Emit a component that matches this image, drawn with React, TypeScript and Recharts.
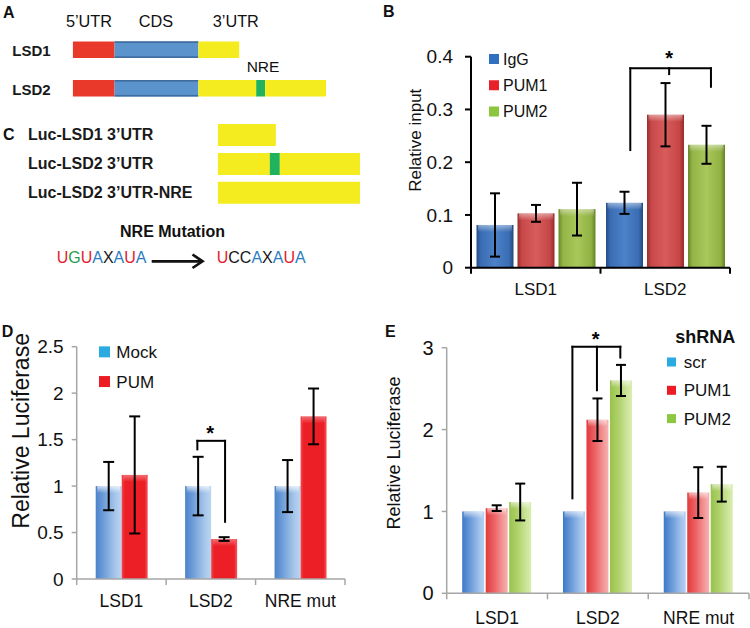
import React from 'react';
import { BarChart, Bar, XAxis, YAxis, ErrorBar, ReferenceLine, ReferenceDot, Legend } from 'recharts';

const FONT = '"Liberation Sans", Arial, Helvetica, sans-serif';

// ---------- Panel A (gene structure, arbitrary length units) ----------
const aRows = ['LSD1', 'LSD2'];
const aUtr5 = [42, 42];
const aCds = [84, 84];
const aUtr3 = [41, 58];
const aNre = [0, 9];
const aUtr3b = [0, 61];

// ---------- Panel C (reporter constructs) ----------
const cRows = ['Luc-LSD1 3\u2019UTR', 'Luc-LSD2 3\u2019UTR', 'Luc-LSD2 3\u2019UTR-NRE'];
const cUtr = [58, 52, 142];
const cNre = [0, 10, 0];
const cUtrB = [0, 80, 0];

// ---------- Panel B ----------
const bCats = ['LSD1', 'LSD2'];
const bNames = ['IgG', 'PUM1', 'PUM2'];
const bIgG = [0.081, 0.123];
const bIgGErr = [0.06, 0.021];
const bPum1 = [0.103, 0.29];
const bPum1Err = [0.016, 0.06];
const bPum2 = [0.111, 0.233];
const bPum2Err = [0.05, 0.036];
const bTicks = [0, 0.1, 0.2, 0.3, 0.4];
const bBracketX = [1.23, 1.53, 1.853];
const bBracketTop = 0.378;
const bBracketEnds = [0.223, 0.367, 0.343];
const bStar = [1.53, 0.3975];

// ---------- Panel D ----------
const dCats = ['LSD1', 'LSD2', 'NRE mut'];
const dNames = ['Mock', 'PUM'];
const dMock = [1, 1, 1];
const dMockErr = [0.26, 0.315, 0.28];
const dPum = [1.12, 0.43, 1.75];
const dPumErr = [0.63, 0.02, 0.3];
const dTicks = [0, 0.5, 1, 1.5, 2, 2.5];
const dBracketX = [1.349, 1.659];
const dBracketTop = 1.487;
const dBracketEnds = [1.395, 0.616];
const dStar = [1.491, 1.577];

// ---------- Panel E ----------
const eCats = ['LSD1', 'LSD2', 'NRE mut'];
const eNames = ['scr', 'PUM1', 'PUM2'];
const eScr = [1, 1, 1];
const ePum1 = [1.04, 2.12, 1.23];
const ePum1Err = [0.035, 0.26, 0.31];
const ePum2 = [1.115, 2.6, 1.333];
const ePum2Err = [0.225, 0.19, 0.213];
const eTicks = [0, 1, 2, 3];
const eBracketX = [1.2475, 1.491, 1.723];
const eBracketTop = 3.011;
const eBracketEnds = [1.16, 2.48, 2.88];
const eStar = [1.478, 3.105];

// ---------- tables built from the arrays ----------
const aData = aRows.map((name, i) => ({ name, utr5: aUtr5[i], cds: aCds[i], utr3: aUtr3[i], nre: aNre[i], utr3b: aUtr3b[i] }));
const cData = cRows.map((name, i) => ({ name, utr: cUtr[i], nre: cNre[i], utrb: cUtrB[i] }));
const bData = bCats.map((name, i) => ({ name, slot: i + 0.5, igg: bIgG[i], iggErr: bIgGErr[i], pum1: bPum1[i], pum1Err: bPum1Err[i], pum2: bPum2[i], pum2Err: bPum2Err[i] }));
const dData = dCats.map((name, i) => ({ name, slot: i + 0.5, mock: dMock[i], mockErr: dMockErr[i], pum: dPum[i], pumErr: dPumErr[i] }));
const eData = eCats.map((name, i) => ({ name, slot: i + 0.5, scr: eScr[i], pum1: ePum1[i], pum1Err: ePum1Err[i], pum2: ePum2[i], pum2Err: ePum2Err[i] }));

// ---------- styles ----------
const RED = '#e9392b';
const BLUE = '#5b93cc';
const YELLOW = '#f4ec1f';
const GREEN = '#20b25c';

type Stop = [number, string];
const G_B_IGG: Stop[] = [[0, '#234c88'], [0.12, '#3a6db3'], [0.5, '#4d82c8'], [0.88, '#3a6db3'], [1, '#214882']];
const G_B_P1: Stop[] = [[0, '#9a2e2d'], [0.12, '#c84849'], [0.5, '#d85c5b'], [0.88, '#c44545'], [1, '#952b2a']];
const G_B_P2: Stop[] = [[0, '#6b8728'], [0.12, '#93b446'], [0.5, '#a9c75a'], [0.88, '#91b143'], [1, '#678225']];
const G_D_MOCK: Stop[] = [[0, '#4a82ca'], [0.35, '#74a2da'], [0.75, '#a6c6ea'], [1, '#bcd5f1']];
const G_D_PUM: Stop[] = [[0, '#f04a4e'], [0.12, '#ec1f27'], [0.88, '#ec1f27'], [1, '#f2585c']];
const G_E_SCR: Stop[] = [[0, '#3f78c6'], [0.4, '#6e9ddb'], [0.8, '#a2c3ec'], [1, '#b4cff0']];
const G_E_P1: Stop[] = [[0, '#e23a3c'], [0.4, '#ec6466'], [0.8, '#f49a9a'], [1, '#f6b2b2']];
const G_E_P2: Stop[] = [[0, '#98c24c'], [0.4, '#b0d26c'], [0.8, '#cde69c'], [1, '#d9edb2']];

const NUC_COLOR: Record<string, string> = { U: '#e5202e', G: '#1f9e4b', A: '#2c7cc2', X: '#151515', C: '#151515' };
const seqWild = 'UGUAXAUA';
const seqMut = 'UCCAXAUA';

const GlossBar = (props: any) => {
  const { x, y, width, height, index, gid, stops, hl } = props;
  if (!(height > 0) || !(width > 0)) return null;
  const id = `${gid}-${index}`;
  const hh = Math.min(7, height);
  return (
    <g>
      <defs>
        <linearGradient id={id} x1="0" y1="0" x2="1" y2="0">
          {stops.map((s: Stop, k: number) => (
            <stop key={k} offset={s[0]} stopColor={s[1]} />
          ))}
        </linearGradient>
        <linearGradient id={id + 'h'} x1="0" y1="0" x2="0" y2="1">
          <stop offset="0" stopColor="#ffffff" stopOpacity={hl} />
          <stop offset="1" stopColor="#ffffff" stopOpacity={0} />
        </linearGradient>
      </defs>
      <rect x={x} y={y} width={width} height={height} fill={`url(#${id})`} />
      <rect x={x + 1.5} y={y} width={Math.max(0, width - 3)} height={hh} fill={`url(#${id}h)`} />
    </g>
  );
};

const CdsShape = (props: any) => {
  const { x, y, width, height } = props;
  if (!(width > 0)) return null;
  return (
    <g>
      <rect x={x} y={y} width={width} height={height} fill={BLUE} />
      <rect x={x} y={y} width={width} height={1.6} fill="#3e6c9f" />
      <rect x={x} y={y + height - 1.6} width={width} height={1.6} fill="#3e6c9f" />
    </g>
  );
};

const CatTick = (props: any) => {
  const { x, y, payload, index, visibleTicksCount, width, fs, dy, color, tw } = props;
  const half =
    payload && typeof payload.offset === 'number' && payload.offset > 0
      ? payload.offset
      : width / (visibleTicksCount || 1) / 2;
  return (
    <g>
      <line x1={x - half} x2={x - half} y1={y} y2={y + 6} stroke={color} strokeWidth={tw} />
      {index === visibleTicksCount - 1 && (
        <line x1={x + half} x2={x + half} y1={y} y2={y + 6} stroke={color} strokeWidth={tw} />
      )}
      <text x={x} y={y + dy} textAnchor="middle" fontSize={fs} fontFamily={FONT} fill="#111">
        {payload.value}
      </text>
    </g>
  );
};

const RowTick = (props: any) => {
  const { x, y, payload, anchor, fs, dy } = props;
  return (
    <text x={x} y={y + dy} textAnchor={anchor} fontSize={fs} fontWeight="bold" fontFamily={FONT} fill="#1a1a1a">
      {payload.value}
    </text>
  );
};

const AxisTitle = (props: any) => {
  const vb = props.viewBox || { x: 0, y: 0, width: 0, height: 0 };
  const tx = vb.x + props.cx;
  const ty = vb.y + vb.height / 2 + props.dy;
  return (
    <text
      x={tx}
      y={ty}
      transform={`rotate(-90 ${tx} ${ty})`}
      textAnchor="middle"
      dominantBaseline="central"
      fontSize={props.fs}
      fontFamily={FONT}
      fill="#111"
    >
      {props.text}
    </text>
  );
};

const LegendBox = (props: any) => {
  const { names, colors, title, sq, fs, rowH, firstY, textX, titleX, titleY, w, h } = props;
  return (
    <svg width={w} height={h} style={{ display: 'block', overflow: 'visible' }}>
      {title && (
        <text x={titleX} y={titleY + 0.358 * 18} fontSize={18} fontWeight="bold" fontFamily={FONT} fill="#111">
          {title}
        </text>
      )}
      {names.map((n: string, i: number) => {
        const cy = firstY + i * rowH;
        return (
          <g key={n}>
            <rect x={0} y={cy - sq / 2} width={sq} height={sq} fill={colors[i]} />
            <text x={textX} y={cy + 0.358 * fs} fontSize={fs} fontFamily={FONT} fill="#111">
              {n}
            </text>
          </g>
        );
      })}
    </svg>
  );
};

const bracket = (key: string, xs: number[], top: number, ends: number[], sw: number) => {
  const lines = [
    <ReferenceLine
      key={key + 'h'}
      xAxisId="n"
      segment={[{ x: xs[0], y: top }, { x: xs[xs.length - 1], y: top }]}
      stroke="#000"
      strokeWidth={sw}
      strokeLinecap="square"
      ifOverflow="visible"
    />,
  ];
  xs.forEach((xv, i) => {
    lines.push(
      <ReferenceLine
        key={key + 'v' + i}
        xAxisId="n"
        segment={[{ x: xv, y: top }, { x: xv, y: ends[i] }]}
        stroke="#000"
        strokeWidth={sw}
        strokeLinecap="square"
        ifOverflow="visible"
      />
    );
  });
  return lines;
};

const star = (key: string, pos: number[]) => (
  <ReferenceDot
    key={key}
    xAxisId="n"
    x={pos[0]}
    y={pos[1]}
    r={1}
    fill="none"
    stroke="none"
    ifOverflow="visible"
    label={{ value: '*', position: 'center', fontSize: 20, fontWeight: 'bold', fill: '#000', fontFamily: FONT }}
  />
);

export default function App() {
  return (
    <div style={{ position: 'absolute', left: 0, top: 0, width: 750, height: 628, background: '#fff', overflow: 'hidden' }}>
      {/* Panel A */}
      <div style={{ position: 'absolute', left: 0, top: 0 }}>
        <BarChart layout="vertical" width={375} height={110} data={aData} margin={{ top: 30.4, right: 49, bottom: 2.4, left: 0 }}>
          <XAxis type="number" domain={[0, 254]} hide allowDataOverflow />
          <YAxis
            type="category"
            dataKey="name"
            width={72.7}
            axisLine={false}
            tickLine={false}
            tickSize={0}
            tickMargin={22}
            tick={(p: any) => <RowTick {...p} anchor="end" fs={15} dy={6.4} />}
          />
          <Bar dataKey="utr5" stackId="s" fill={RED} barSize={16.5} isAnimationActive={false} />
          <Bar dataKey="cds" stackId="s" fill={BLUE} barSize={16.5} shape={CdsShape} isAnimationActive={false} />
          <Bar dataKey="utr3" stackId="s" fill={YELLOW} barSize={16.5} isAnimationActive={false} />
          <Bar dataKey="nre" stackId="s" fill={GREEN} barSize={16.5} isAnimationActive={false} />
          <Bar dataKey="utr3b" stackId="s" fill={YELLOW} barSize={16.5} isAnimationActive={false} />
        </BarChart>
      </div>

      {/* Panel C */}
      <div style={{ position: 'absolute', left: 0, top: 110 }}>
        <BarChart layout="vertical" width={375} height={110} data={cData} margin={{ top: 11.05, right: 15, bottom: 12.25, left: 0 }}>
          <XAxis type="number" domain={[0, 142]} hide allowDataOverflow />
          <YAxis
            type="category"
            dataKey="name"
            width={217.7}
            axisLine={false}
            tickLine={false}
            tickSize={0}
            tickMargin={189.7}
            tick={(p: any) => <RowTick {...p} anchor="start" fs={16} dy={4.8} />}
          />
          <Bar dataKey="utr" stackId="s" fill={YELLOW} barSize={22} isAnimationActive={false} />
          <Bar dataKey="nre" stackId="s" fill={GREEN} barSize={22} isAnimationActive={false} />
          <Bar dataKey="utrb" stackId="s" fill={YELLOW} barSize={22} isAnimationActive={false} />
        </BarChart>
      </div>

      {/* Panel B */}
      <div style={{ position: 'absolute', left: 380, top: 30 }}>
        <BarChart width={370} height={270} data={bData} margin={{ top: 26.7, right: 20, bottom: 0, left: 0 }} barCategoryGap={5.5} barGap={4}>
          <XAxis
            dataKey="name"
            height={32.3}
            interval={0}
            tickSize={0}
            tickMargin={0}
            tickLine={false}
            axisLine={{ stroke: '#000', strokeWidth: 2 }}
            tick={(p: any) => <CatTick {...p} fs={17} dy={27} color="#000" tw={2} />}
          />
          <XAxis xAxisId="n" dataKey="slot" type="number" domain={[0, 2]} allowDataOverflow hide />
          <YAxis
            domain={[0, 0.4]}
            ticks={bTicks}
            width={91}
            tickSize={6}
            tickMargin={12}
            stroke="#000"
            axisLine={{ stroke: '#000', strokeWidth: 2 }}
            tickLine={{ stroke: '#000', strokeWidth: 2 }}
            tick={{ fontSize: 19, fill: '#111', fontFamily: FONT }}
            label={<AxisTitle text="Relative input" cx={35.5} dy={-22} fs={17} />}
          />
          <Legend
            layout="horizontal"
            verticalAlign="middle"
            align="center"
            wrapperStyle={{ left: 109.3, top: 16, width: 90, height: 80 }}
            content={() => (
              <LegendBox names={bNames} colors={['#2f70bf', '#e8202a', '#8cc63f']} sq={10} fs={16} rowH={26.25} firstY={13} textX={14} w={90} h={80} />
            )}
          />
          <Bar dataKey="igg" name="IgG" isAnimationActive={false} shape={(p: any) => <GlossBar {...p} gid="bigg" stops={G_B_IGG} hl={0.45} />}>
            <ErrorBar dataKey="iggErr" width={5} stroke="#000" strokeWidth={2} />
          </Bar>
          <Bar dataKey="pum1" name="PUM1" isAnimationActive={false} shape={(p: any) => <GlossBar {...p} gid="bp1" stops={G_B_P1} hl={0.45} />}>
            <ErrorBar dataKey="pum1Err" width={5} stroke="#000" strokeWidth={2} />
          </Bar>
          <Bar dataKey="pum2" name="PUM2" isAnimationActive={false} shape={(p: any) => <GlossBar {...p} gid="bp2" stops={G_B_P2} hl={0.45} />}>
            <ErrorBar dataKey="pum2Err" width={5} stroke="#000" strokeWidth={2} />
          </Bar>
          {bracket('b', bBracketX, bBracketTop, bBracketEnds, 2)}
          {star('bs', bStar)}
        </BarChart>
      </div>

      {/* Panel D */}
      <div style={{ position: 'absolute', left: 0, top: 300 }}>
        <BarChart width={375} height={328} data={dData} margin={{ top: 46.7, right: 30, bottom: 0, left: 0 }} barCategoryGap={19} barGap={0}>
          <XAxis
            dataKey="name"
            height={49}
            interval={0}
            tickSize={0}
            tickMargin={0}
            tickLine={false}
            axisLine={{ stroke: '#a6a6a6', strokeWidth: 1.5 }}
            tick={(p: any) => <CatTick {...p} fs={17.5} dy={28} color="#a6a6a6" tw={1.5} />}
          />
          <XAxis xAxisId="n" dataKey="slot" type="number" domain={[0, 3]} allowDataOverflow hide />
          <YAxis
            domain={[0, 2.5]}
            ticks={dTicks}
            width={76.7}
            tickSize={5}
            tickMargin={8}
            stroke="#a6a6a6"
            axisLine={{ stroke: '#a6a6a6', strokeWidth: 1.5 }}
            tickLine={{ stroke: '#a6a6a6', strokeWidth: 1.5 }}
            tick={{ fontSize: 19, fill: '#111', fontFamily: FONT }}
            label={<AxisTitle text="Relative Luciferase" cx={21} dy={-32} fs={23} />}
          />
          <Legend
            layout="horizontal"
            verticalAlign="middle"
            align="center"
            wrapperStyle={{ left: 98.7, top: 37.2, width: 90, height: 62 }}
            content={() => (
              <LegendBox names={dNames} colors={['#29abe2', '#ed1c24']} sq={11} fs={17} rowH={29.7} firstY={14.85} textX={17.3} w={90} h={62} />
            )}
          />
          <Bar dataKey="mock" name="Mock" isAnimationActive={false} shape={(p: any) => <GlossBar {...p} gid="dm" stops={G_D_MOCK} hl={0.7} />}>
            <ErrorBar dataKey="mockErr" width={5.5} stroke="#000" strokeWidth={2} />
          </Bar>
          <Bar dataKey="pum" name="PUM" isAnimationActive={false} shape={(p: any) => <GlossBar {...p} gid="dp" stops={G_D_PUM} hl={0.35} />}>
            <ErrorBar dataKey="pumErr" width={5.5} stroke="#000" strokeWidth={2} />
          </Bar>
          {bracket('d', dBracketX, dBracketTop, dBracketEnds, 2)}
          {star('ds', dStar)}
        </BarChart>
      </div>

      {/* Panel E */}
      <div style={{ position: 'absolute', left: 375, top: 300 }}>
        <BarChart width={375} height={328} data={eData} margin={{ top: 47.7, right: 1, bottom: 0, left: 0 }} barCategoryGap={15.5} barGap={1.5}>
          <XAxis
            dataKey="name"
            height={34.7}
            interval={0}
            tickSize={0}
            tickMargin={0}
            tickLine={false}
            axisLine={{ stroke: '#a6a6a6', strokeWidth: 1.5 }}
            tick={(p: any) => <CatTick {...p} fs={17.5} dy={31} color="#a6a6a6" tw={1.5} />}
          />
          <XAxis xAxisId="n" dataKey="slot" type="number" domain={[0, 3]} allowDataOverflow hide />
          <YAxis
            domain={[0, 3]}
            ticks={eTicks}
            width={71.7}
            tickSize={5}
            tickMargin={8}
            stroke="#a6a6a6"
            axisLine={{ stroke: '#a6a6a6', strokeWidth: 1.5 }}
            tickLine={{ stroke: '#a6a6a6', strokeWidth: 1.5 }}
            tick={{ fontSize: 20, fill: '#111', fontFamily: FONT }}
            label={<AxisTitle text="Relative Luciferase" cx={19} dy={-17.5} fs={18} />}
          />
          <Legend
            layout="horizontal"
            verticalAlign="middle"
            align="center"
            wrapperStyle={{ left: 291.7, top: 22.7, width: 84, height: 112 }}
            content={() => (
              <LegendBox
                names={eNames}
                colors={['#29abe2', '#ed1c24', '#8dc63f']}
                title="shRNA"
                titleX={8.3}
                titleY={14}
                sq={9}
                fs={17}
                rowH={28.3}
                firstY={39}
                textX={16.7}
                w={84}
                h={112}
              />
            )}
          />
          <Bar dataKey="scr" name="scr" isAnimationActive={false} shape={(p: any) => <GlossBar {...p} gid="es" stops={G_E_SCR} hl={0.6} />} />
          <Bar dataKey="pum1" name="PUM1" isAnimationActive={false} shape={(p: any) => <GlossBar {...p} gid="e1" stops={G_E_P1} hl={0.6} />}>
            <ErrorBar dataKey="pum1Err" width={5} stroke="#000" strokeWidth={2} />
          </Bar>
          <Bar dataKey="pum2" name="PUM2" isAnimationActive={false} shape={(p: any) => <GlossBar {...p} gid="e2" stops={G_E_P2} hl={0.6} />}>
            <ErrorBar dataKey="pum2Err" width={5} stroke="#000" strokeWidth={2} />
          </Bar>
          {bracket('e', eBracketX, eBracketTop, eBracketEnds, 2)}
          {star('es', eStar)}
        </BarChart>
      </div>

      {/* Text overlay: panel letters, diagram captions, NRE mutation */}
      <svg width={750} height={628} style={{ position: 'absolute', left: 0, top: 0, pointerEvents: 'none' }}>
        <g fontFamily={FONT} fill="#111">
          <text x={3} y={18.3} fontSize={16} fontWeight="bold">A</text>
          <text x={383} y={16.7} fontSize={16} fontWeight="bold">B</text>
          <text x={3} y={140} fontSize={16} fontWeight="bold">C</text>
          <text x={1.7} y={336.7} fontSize={16} fontWeight="bold">D</text>
          <text x={385} y={336.7} fontSize={16} fontWeight="bold">E</text>

          <text x={89} y={26.6} fontSize={16.3} textAnchor="middle">5’UTR</text>
          <text x={156} y={26.6} fontSize={16.3} textAnchor="middle">CDS</text>
          <text x={235.8} y={26.6} fontSize={16.3} textAnchor="middle">3’UTR</text>
          <text x={263} y={72.2} fontSize={15.5} textAnchor="middle">NRE</text>

          <text x={172.5} y={236.5} fontSize={16} fontWeight="bold" textAnchor="middle">NRE Mutation</text>
          <text x={56.7} y={263.3} fontSize={16}>
            {seqWild.split('').map((ch, i) => (
              <tspan key={i} fill={NUC_COLOR[ch]}>{ch}</tspan>
            ))}
          </text>
          <text x={216.7} y={263.3} fontSize={16}>
            {seqMut.split('').map((ch, i) => (
              <tspan key={i} fill={NUC_COLOR[ch]}>{ch}</tspan>
            ))}
          </text>
        </g>
        <path d="M151.7 261.3 H201" stroke="#111" strokeWidth={2.7} fill="none" />
        <path d="M192.5 254.5 L202.5 261.3 L192.5 268" stroke="#111" strokeWidth={2.7} fill="none" strokeLinejoin="miter" />
      </svg>
    </div>
  );
}
